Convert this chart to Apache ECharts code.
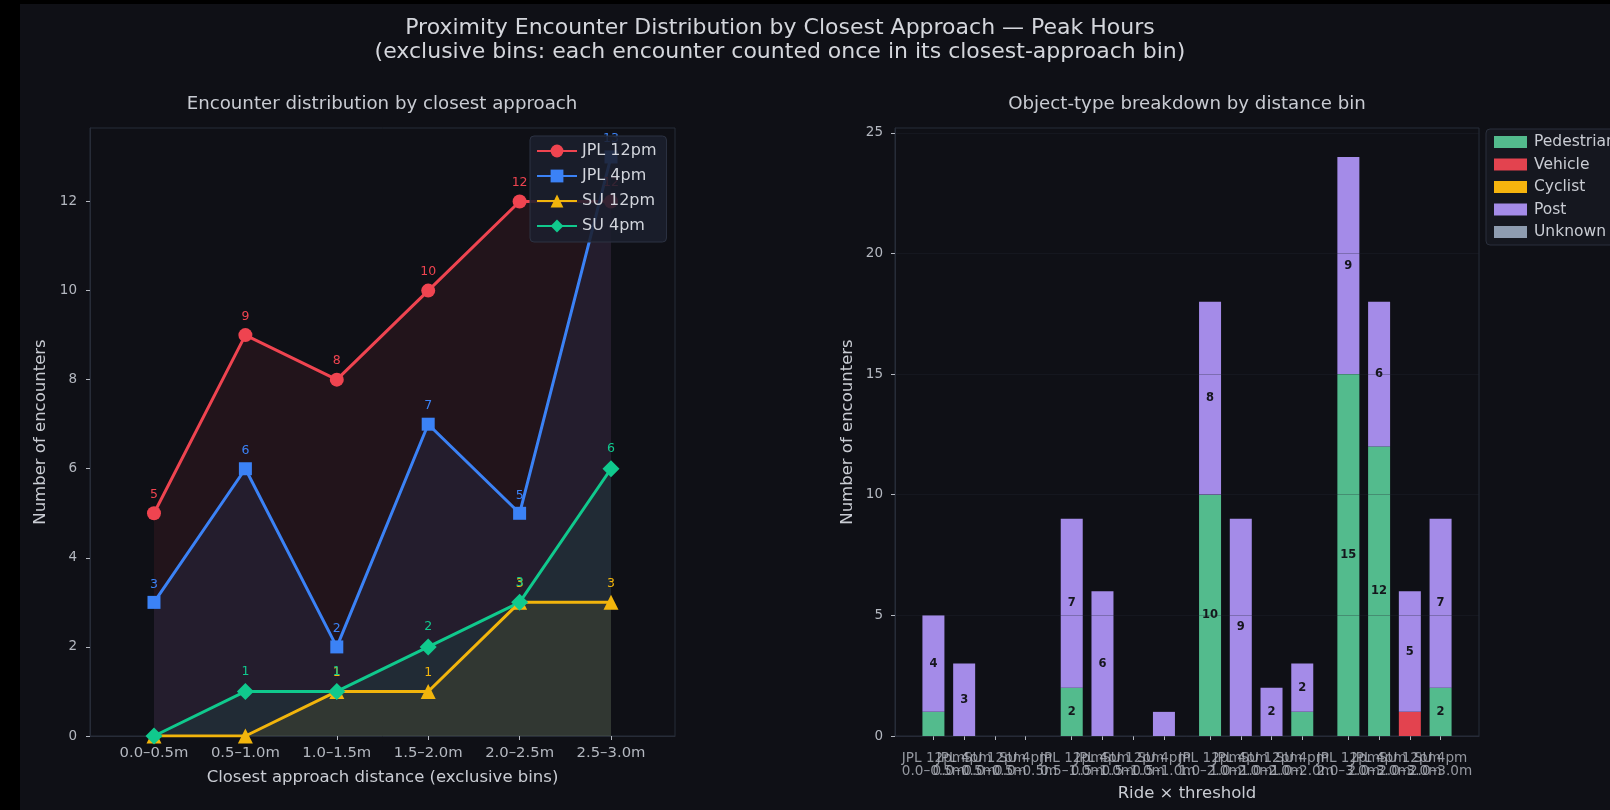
<!DOCTYPE html>
<html>
<head>
<meta charset="utf-8">
<script src="https://cdn.jsdelivr.net/npm/echarts@6/dist/echarts.min.js"></script>
<style>
  html, body { margin: 0; padding: 0; background: #000; width: 1610px; height: 810px; overflow: hidden; }
  #chart { position: absolute; left: 20px; top: 4px; width: 1590px; height: 806px; background: #0f1016; }
</style>
</head>
<body>
<div id="chart"></div>
<script>
// ---- Left panel: encounters per exclusive closest-approach bin ----
const bins = ['0.0–0.5m', '0.5–1.0m', '1.0–1.5m', '1.5–2.0m', '2.0–2.5m', '2.5–3.0m'];
const jpl12pm = [5, 9, 8, 10, 12, 12];
const jpl4pm  = [3, 6, 2, 7, 5, 13];
const su12pm  = [0, 0, 1, 1, 3, 3];
const su4pm   = [0, 1, 1, 2, 3, 6];
const leftYTicks = [0, 2, 4, 6, 8, 10, 12];

// ---- Right panel: object types per ride and distance threshold ----
const rides = ['JPL 12pm', 'JPL 4pm', 'SU 12pm', 'SU 4pm'];
const thresholds = ['0.0–0.5m', '0.5–1.0m', '1.0–2.0m', '2.0–3.0m'];
// ordered threshold by threshold, ride by ride inside each threshold
const pedestrian = [1, 0, 0, 0,   2, 0, 0, 0,   10, 0, 0, 1,   15, 12, 0, 2];
const vehicle    = [0, 0, 0, 0,   0, 0, 0, 0,   0, 0, 0, 0,    0, 0, 1, 0];
const cyclist    = [0, 0, 0, 0,   0, 0, 0, 0,   0, 0, 0, 0,    0, 0, 0, 0];
const post       = [4, 3, 0, 0,   7, 6, 0, 1,   8, 9, 2, 2,    9, 6, 5, 7];
const unknown    = [0, 0, 0, 0,   0, 0, 0, 0,   0, 0, 0, 0,    0, 0, 0, 0];
const rightYTicks = [0, 5, 10, 15, 20, 25];

const FONT = 'DejaVu Sans';
const TXT = '#c9ccd3';
const TICK = '#b4b8c0';
const FRAME = '#272c38';

// Right axis runs on half-width slots: each bar sits on every other slot,
// thresholds are separated by one extra slot, and two empty slots pad each end.
const padSlots = 2;
const slotsPerGroup = 2 * rides.length + 1;
const slotCount = padSlots * 2 + (thresholds.length - 1) * slotsPerGroup + 2 * (rides.length - 1) + 1;
const slotNames = [];
for (let s = 0; s < slotCount; s++) slotNames.push('gap-' + s);
const barSlot = [];
const isBarSlot = new Array(slotCount).fill(false);
thresholds.forEach((t, g) => {
  rides.forEach((r, i) => {
    const s = padSlots + g * slotsPerGroup + 2 * i;
    barSlot.push(s);
    isBarSlot[s] = true;
    slotNames[s] = r + '\n' + t;
  });
});
const toSlots = arr => {
  const out = new Array(slotCount).fill('-');
  arr.forEach((v, k) => { out[barSlot[k]] = v; });
  return out;
};
const linePairs = arr => arr.map((v, k) => [k, v]);

const lineDefs = [
  { name: 'JPL 12pm', data: jpl12pm, color: '#ef4450', symbol: 'circle', size: 14 },
  { name: 'JPL 4pm',  data: jpl4pm,  color: '#3b82f6', symbol: 'rect', size: 13 },
  { name: 'SU 12pm',  data: su12pm,  color: '#f2b50c', symbol: 'triangle', size: 15 },
  { name: 'SU 4pm',   data: su4pm,   color: '#10c98d', symbol: 'diamond', size: 17 }
];

const barDefs = [
  { name: 'Pedestrian', data: pedestrian, color: '#53bb8d' },
  { name: 'Vehicle',    data: vehicle,    color: '#e3434f' },
  { name: 'Cyclist',    data: cyclist,    color: '#f6b40e' },
  { name: 'Post',       data: post,       color: '#a48be8' },
  { name: 'Unknown',    data: unknown,    color: '#8e9cb0' }
];

function hexA(hex, a) {
  const n = parseInt(hex.slice(1), 16);
  return `rgba(${(n >> 16) & 255},${(n >> 8) & 255},${n & 255},${a})`;
}

const series = [];
lineDefs.forEach(d => {
  series.push({
    name: d.name, type: 'line', xAxisIndex: 0, yAxisIndex: 0,
    data: linePairs(d.data),
    symbol: d.symbol, symbolSize: d.size,
    lineStyle: { color: d.color, width: 3 },
    itemStyle: { color: d.color },
    areaStyle: { color: hexA(d.color, 0.12), origin: 'start' },
    label: {
      show: true, position: 'top', distance: 5, color: d.color, fontFamily: FONT, fontSize: 12.5,
      formatter: p => (p.value[1] > 0 ? String(p.value[1]) : '')
    },
    emphasis: { disabled: true },
    z: 3
  });
});
barDefs.forEach(d => {
  series.push({
    name: d.name, type: 'bar', xAxisIndex: 1, yAxisIndex: 1,
    stack: 'types', barWidth: 22,
    data: toSlots(d.data),
    itemStyle: { color: d.color },
    label: {
      show: true, position: 'inside', color: '#15161c', fontFamily: FONT, fontSize: 11.5, fontWeight: 'bold',
      formatter: p => (p.value >= 2 ? String(p.value) : '')
    },
    emphasis: { disabled: true }
  });
});
// Ride × threshold captions: every one is drawn, even where neighbours collide
series.push({
  name: 'captions', type: 'scatter', xAxisIndex: 1, yAxisIndex: 1,
  data: barSlot.map(s => ({ value: [s, 0], name: slotNames[s] })),
  symbolSize: 0, silent: true, clip: false,
  label: {
    show: true, position: 'bottom', distance: 16.5, formatter: p => p.name,
    color: TICK, fontFamily: FONT, fontSize: 13.6, lineHeight: 12.5, align: 'center'
  },
  labelLayout: { hideOverlap: false },
  emphasis: { disabled: true },
  z: 1
});

const option = {
  backgroundColor: '#0f1016',
  animation: false,
  textStyle: { fontFamily: FONT },
  title: [
    {
      text: 'Proximity Encounter Distribution by Closest Approach — Peak Hours\n(exclusive bins: each encounter counted once in its closest-approach bin)',
      left: 760, top: 12.5, textAlign: 'center', padding: 0,
      textStyle: { color: '#d4d6dc', fontFamily: FONT, fontSize: 22, fontWeight: 'normal', lineHeight: 24, align: 'center' }
    },
    {
      text: 'Encounter distribution by closest approach', left: 362, top: 91, textAlign: 'center', padding: 0,
      textStyle: { color: TXT, fontFamily: FONT, fontSize: 18.2, fontWeight: 'normal' }
    },
    {
      text: 'Object-type breakdown by distance bin', left: 1167, top: 91, textAlign: 'center', padding: 0,
      textStyle: { color: TXT, fontFamily: FONT, fontSize: 18.2, fontWeight: 'normal' }
    }
  ],
  legend: [
    {
      data: lineDefs.map(d => d.name),
      orient: 'vertical', left: 510, top: 132,
      padding: [7, 10, 8, 6], itemGap: 9, itemWidth: 40, itemHeight: 16,
      backgroundColor: 'rgba(27,31,45,0.88)', borderColor: '#2c3242', borderWidth: 1, borderRadius: 4,
      textStyle: { color: '#d2d5dc', fontFamily: FONT, fontSize: 16 }
    },
    {
      data: barDefs.map(d => d.name),
      orient: 'vertical', left: 1466, top: 125, icon: 'rect',
      padding: [5, 10, 5, 8], itemGap: 6.5, itemWidth: 33, itemHeight: 12,
      backgroundColor: 'rgba(22,24,32,0.95)', borderColor: '#2a2f3c', borderWidth: 1, borderRadius: 4,
      textStyle: { color: '#c9ccd3', fontFamily: FONT, fontSize: 15.5, padding: [0, 0, 0, 2] }
    }
  ],
  grid: [
    { left: 70, top: 124, width: 585, height: 608, show: true, borderColor: FRAME, borderWidth: 1, backgroundColor: 'transparent', outerBoundsMode: 'none' },
    { left: 875, top: 124, width: 584, height: 608, show: true, borderColor: FRAME, borderWidth: 1, backgroundColor: 'transparent', outerBoundsMode: 'none' }
  ],
  xAxis: [
    {
      type: 'value', gridIndex: 0, min: -0.7, max: 5.7,
      name: 'Closest approach distance (exclusive bins)', nameLocation: 'middle', nameGap: 33,
      nameTextStyle: { color: TXT, fontFamily: FONT, fontSize: 16.5 },
      axisLine: { show: true, onZero: false, lineStyle: { color: FRAME } },
      axisTick: { show: true, customValues: bins.map((b, i) => i), length: 4, lineStyle: { color: TICK } },
      axisLabel: { customValues: bins.map((b, i) => i), formatter: v => bins[v], color: TICK, fontFamily: FONT, fontSize: 14.8, margin: 10 },
      splitLine: { show: false }
    },
    {
      type: 'category', gridIndex: 1, data: slotNames, boundaryGap: true,
      name: 'Ride × threshold', nameLocation: 'middle', nameGap: 49,
      nameTextStyle: { color: TXT, fontFamily: FONT, fontSize: 16.5 },
      axisLine: { show: true, onZero: false, lineStyle: { color: FRAME } },
      axisTick: { show: true, alignWithLabel: true, interval: idx => isBarSlot[idx], length: 4, lineStyle: { color: TICK } },
      axisLabel: { show: false },
      splitLine: { show: false }
    }
  ],
  yAxis: [
    {
      type: 'value', gridIndex: 0, min: 0, max: 13.65, interval: 2,
      name: 'Number of encounters', nameLocation: 'middle', nameGap: 41,
      nameTextStyle: { color: TXT, fontFamily: FONT, fontSize: 16.5 },
      axisLine: { show: true, onZero: false, lineStyle: { color: FRAME } },
      axisTick: { show: true, customValues: leftYTicks, length: 4, lineStyle: { color: TICK } },
      axisLabel: { customValues: leftYTicks, color: TICK, fontFamily: FONT, fontSize: 13.5, margin: 13 },
      splitLine: { show: false }
    },
    {
      type: 'value', gridIndex: 1, min: 0, max: 25.2, interval: 5,
      name: 'Number of encounters', nameLocation: 'middle', nameGap: 39,
      nameTextStyle: { color: TXT, fontFamily: FONT, fontSize: 16.5 },
      axisLine: { show: true, onZero: false, lineStyle: { color: FRAME } },
      axisTick: { show: true, customValues: rightYTicks, length: 4, lineStyle: { color: TICK } },
      axisLabel: { customValues: rightYTicks, color: TICK, fontFamily: FONT, fontSize: 13.5, margin: 12 },
      // grid lines sit over the bars, dark enough to vanish on the background
      splitLine: { show: true, lineStyle: { color: 'rgba(36,40,54,0.3)', type: 'solid', width: 1 } },
      z: 5
    }
  ],
  series: series
};

const chart = echarts.init(document.getElementById('chart'), null, { renderer: 'canvas' });
chart.setOption(option);
</script>
</body>
</html>
